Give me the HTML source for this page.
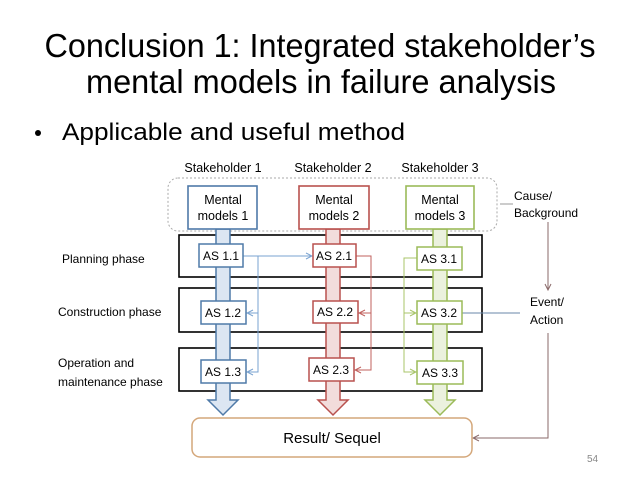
<!DOCTYPE html>
<html><head><meta charset="utf-8"><style>
html,body{margin:0;padding:0;background:#fff;}
svg{display:block;font-family:"Liberation Sans",sans-serif;}
</style></head><body>
<svg width="638" height="479" viewBox="0 0 638 479" xmlns="http://www.w3.org/2000/svg">
<defs>
<marker id="ab" markerWidth="8" markerHeight="8" refX="7" refY="4" orient="auto" markerUnits="userSpaceOnUse"><path d="M1,1 L7,4 L1,7" fill="none" stroke="#7aa3d0" stroke-width="1"/></marker>
<marker id="ar" markerWidth="8" markerHeight="8" refX="7" refY="4" orient="auto" markerUnits="userSpaceOnUse"><path d="M1,1 L7,4 L1,7" fill="none" stroke="#c0605d" stroke-width="1"/></marker>
<marker id="ag" markerWidth="8" markerHeight="8" refX="7" refY="4" orient="auto" markerUnits="userSpaceOnUse"><path d="M1,1 L7,4 L1,7" fill="none" stroke="#a8c46a" stroke-width="1"/></marker>
<marker id="am" markerWidth="8" markerHeight="8" refX="7" refY="4" orient="auto" markerUnits="userSpaceOnUse"><path d="M1,1 L7,4 L1,7" fill="none" stroke="#8a6a6a" stroke-width="1"/></marker>
</defs>
<text x="320" y="57" font-size="33" text-anchor="middle" textLength="551" lengthAdjust="spacingAndGlyphs">Conclusion 1: Integrated stakeholder’s</text>
<text x="321" y="93" font-size="33" text-anchor="middle" textLength="470" lengthAdjust="spacingAndGlyphs">mental models in failure analysis</text>
<circle cx="38" cy="133" r="3" fill="#000"/>
<text x="62" y="140" font-size="24" textLength="343" lengthAdjust="spacingAndGlyphs">Applicable and useful method</text>

<g font-size="12.5">
<text x="223" y="172" text-anchor="middle">Stakeholder 1</text>
<text x="333" y="172" text-anchor="middle">Stakeholder 2</text>
<text x="440" y="172" text-anchor="middle">Stakeholder 3</text>
</g>
<rect x="168" y="178" width="329" height="53" rx="10" fill="none" stroke="#aaa" stroke-dasharray="2,2"/>

<!-- phase bars -->
<rect x="179" y="235" width="303" height="42" fill="#fff" stroke="#000" stroke-width="1.6"/>
<rect x="179" y="288" width="303" height="44" fill="#fff" stroke="#000" stroke-width="1.6"/>
<rect x="179" y="348" width="303" height="43" fill="#fff" stroke="#000" stroke-width="1.6"/>

<!-- shafts -->
<path d="M216,229 V400 H208 L223,415 L238,400 H230 V229 Z" fill="#dce6f2" stroke="#4f7aa8" stroke-width="1.5"/>
<path d="M326,229 V400 H318 L333,415 L348,400 H340 V229 Z" fill="#f2dcdb" stroke="#b9514e" stroke-width="1.5"/>
<path d="M433,229 V400 H425 L440,415 L455,400 H447 V229 Z" fill="#ebf1de" stroke="#9bbb59" stroke-width="1.5"/>

<!-- mental model boxes -->
<g font-size="12.5" text-anchor="middle">
<rect x="188" y="186" width="69" height="43" fill="#fff" stroke="#4f7aa8" stroke-width="1.6"/>
<text x="223" y="204">Mental</text><text x="223" y="220">models 1</text>
<rect x="299" y="186" width="70" height="43" fill="#fff" stroke="#b9514e" stroke-width="1.6"/>
<text x="334" y="204">Mental</text><text x="334" y="220">models 2</text>
<rect x="406" y="186" width="68" height="43" fill="#fff" stroke="#9bbb59" stroke-width="1.6"/>
<text x="440" y="204">Mental</text><text x="440" y="220">models 3</text>
</g>

<!-- connectors -->
<g fill="none" stroke-width="1">
<path d="M243,256 H312" stroke="#7aa3d0" marker-end="url(#ab)"/>
<path d="M243,256 H258 V313 H247" stroke="#7aa3d0" marker-end="url(#ab)"/>
<path d="M246,313 H258 V372 H247" stroke="#7aa3d0" marker-end="url(#ab)"/>
<path d="M356,256 H371 V313 H359" stroke="#c0605d" marker-end="url(#ar)"/>
<path d="M358,313 H371 V370 H355" stroke="#c0605d" marker-end="url(#ar)"/>
<path d="M417,258 H404 V313 H416" stroke="#a8c46a" marker-end="url(#ag)"/>
<path d="M404,313 V372 H416" stroke="#a8c46a" marker-end="url(#ag)"/>
<path d="M462,313 H520" stroke="#6a87aa"/>
<path d="M500,204 H513" stroke="#999"/>
<path d="M548,222 V290" stroke="#8a6a6a" marker-end="url(#am)"/>
<path d="M548,333 V438 H473" stroke="#8a6a6a" marker-end="url(#am)"/>
</g>

<!-- AS boxes -->
<g font-size="12" text-anchor="middle">
<rect x="199" y="244" width="44" height="23" fill="#fff" stroke="#4f7aa8" stroke-width="1.5"/><text x="221" y="260">AS 1.1</text>
<rect x="201" y="301" width="45" height="23" fill="#fff" stroke="#4f7aa8" stroke-width="1.5"/><text x="223" y="317">AS 1.2</text>
<rect x="201" y="360" width="45" height="23" fill="#fff" stroke="#4f7aa8" stroke-width="1.5"/><text x="223" y="376">AS 1.3</text>
<rect x="313" y="244" width="43" height="23" fill="#fff" stroke="#b9514e" stroke-width="1.5"/><text x="334" y="260">AS 2.1</text>
<rect x="313" y="301" width="45" height="22" fill="#fff" stroke="#b9514e" stroke-width="1.5"/><text x="335" y="316">AS 2.2</text>
<rect x="309" y="358" width="45" height="23" fill="#fff" stroke="#b9514e" stroke-width="1.5"/><text x="331" y="374">AS 2.3</text>
<rect x="417" y="247" width="45" height="23" fill="#fff" stroke="#9bbb59" stroke-width="1.5"/><text x="439" y="263">AS 3.1</text>
<rect x="417" y="301" width="45" height="23" fill="#fff" stroke="#9bbb59" stroke-width="1.5"/><text x="439" y="317">AS 3.2</text>
<rect x="417" y="361" width="46" height="23" fill="#fff" stroke="#9bbb59" stroke-width="1.5"/><text x="440" y="377">AS 3.3</text>
</g>

<!-- result -->
<rect x="192" y="418" width="280" height="39" rx="8" fill="#fff" stroke="#d4a77a" stroke-width="1.5"/>
<text x="332" y="443" font-size="15" text-anchor="middle">Result/ Sequel</text>

<!-- side labels -->
<g font-size="12">
<text x="62" y="263">Planning phase</text>
<text x="58" y="316">Construction phase</text>
<text x="58" y="367">Operation and</text>
<text x="58" y="386">maintenance phase</text>
<text x="514" y="200">Cause/</text>
<text x="514" y="217">Background</text>
<text x="530" y="306">Event/</text>
<text x="530" y="324">Action</text>
</g>
<text x="587" y="462" font-size="10" fill="#888">54</text>
</svg>
</body></html>
